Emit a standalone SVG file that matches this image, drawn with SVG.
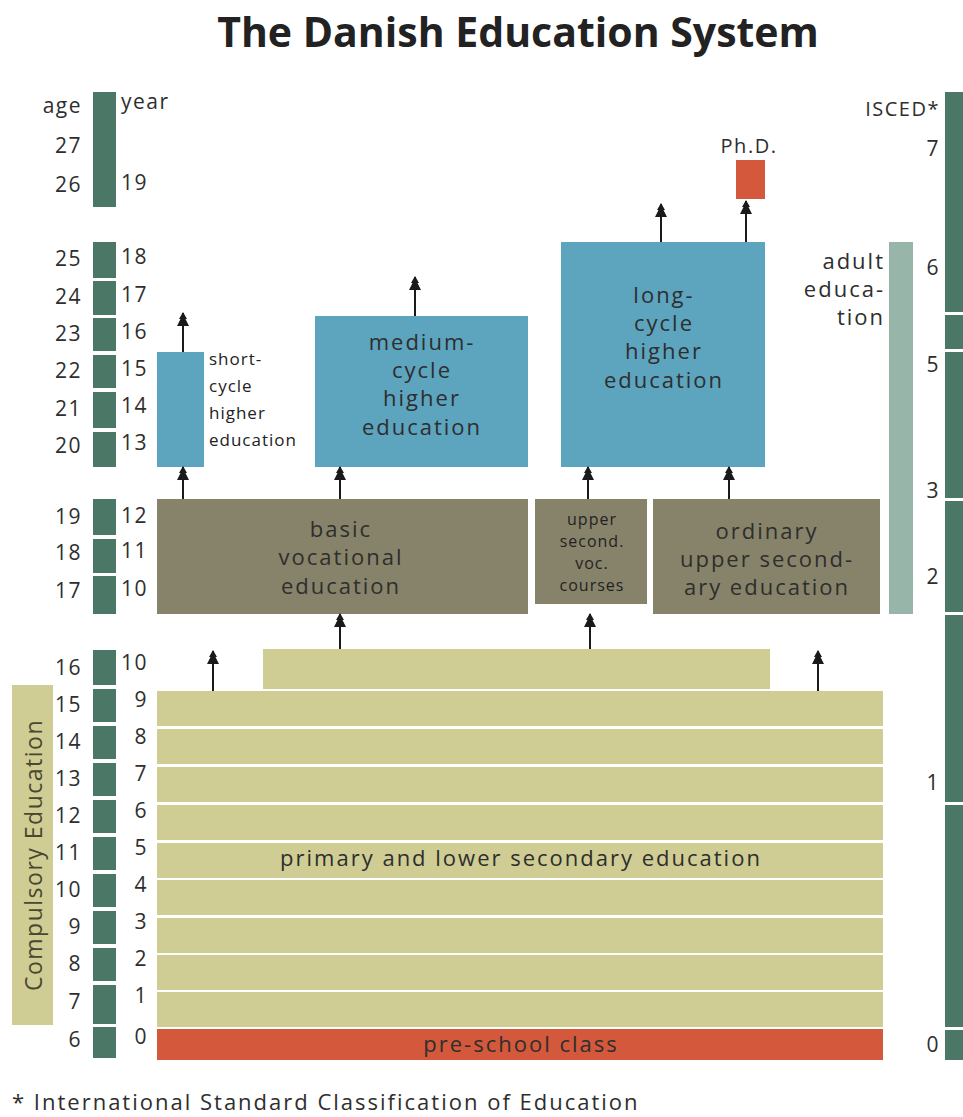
<svg xmlns="http://www.w3.org/2000/svg" width="963" height="1117" viewBox="0 0 963 1117">
<defs>
<style>
text{font-family:"Open Sans","Liberation Sans",sans-serif;fill:#2e2e2e}
.title{font-size:41px;font-weight:bold;text-anchor:middle;fill:#222}
.age{font-size:21px;text-anchor:end;letter-spacing:1.5px}
.yr{font-size:21px;text-anchor:end;letter-spacing:1.5px}
.lbl{font-size:22px;text-anchor:middle;letter-spacing:2px}
.sm{font-size:16px;text-anchor:middle;letter-spacing:1px;fill:#222}
.sc{font-size:17px;letter-spacing:1px;fill:#222}
.ad{font-size:22px;text-anchor:end;letter-spacing:2px}
.bar{fill:#4b7766}
.blue{fill:#5da4bf}
.olive{fill:#87836a}
.tan{fill:#cfcd93}
.red{fill:#d4593c}
.arr{stroke:#1a1a1a;stroke-width:2;marker-end:url(#tree)}
</style>
<marker id="tree" markerUnits="userSpaceOnUse" markerWidth="16" markerHeight="14" viewBox="0 -7 16 14" refX="14" refY="0" orient="auto">
<polygon points="15,0 8,-4 8,-2.5 1,-6 1,6 8,2.5 8,4" fill="#1a1a1a"/>
</marker>
</defs>
<rect width="963" height="1117" fill="#fff"/>
<text class="title" x="518" y="47">The Danish Education System</text>

<g id="age-year-scale">
<rect class="bar" x="93" y="92" width="23" height="115"/>
<rect class="bar" x="93" y="242" width="23" height="36"/>
<rect class="bar" x="93" y="281" width="23" height="34"/>
<rect class="bar" x="93" y="318" width="23" height="33"/>
<rect class="bar" x="93" y="355" width="23" height="33"/>
<rect class="bar" x="93" y="392" width="23" height="36"/>
<rect class="bar" x="93" y="432" width="23" height="35"/>
<rect class="bar" x="93" y="499" width="23" height="36"/>
<rect class="bar" x="93" y="539" width="23" height="34"/>
<rect class="bar" x="93" y="576" width="23" height="38"/>
<rect class="bar" x="93" y="650" width="23" height="35"/>
<rect class="bar" x="93" y="689" width="23" height="33"/>
<rect class="bar" x="93" y="726" width="23" height="33"/>
<rect class="bar" x="93" y="763" width="23" height="33"/>
<rect class="bar" x="93" y="800" width="23" height="33"/>
<rect class="bar" x="93" y="837" width="23" height="33"/>
<rect class="bar" x="93" y="874" width="23" height="33"/>
<rect class="bar" x="93" y="911" width="23" height="33"/>
<rect class="bar" x="93" y="948" width="23" height="33"/>
<rect class="bar" x="93" y="985" width="23" height="39"/>
<rect class="bar" x="93" y="1027" width="23" height="31"/>
<text class="age" x="82" y="113">age</text>
<text x="121" y="109" style="font-size:21px;letter-spacing:1.5px">year</text>
<text class="age" x="82" y="153">27</text>
<text class="age" x="82" y="192">26</text>
<text class="yr" x="148" y="190">19</text>
<text class="age" x="82" y="266">25</text>
<text class="age" x="82" y="304">24</text>
<text class="age" x="82" y="341">23</text>
<text class="age" x="82" y="378">22</text>
<text class="age" x="82" y="416">21</text>
<text class="age" x="82" y="453">20</text>
<text class="yr" x="148" y="264">18</text>
<text class="yr" x="148" y="302">17</text>
<text class="yr" x="148" y="339">16</text>
<text class="yr" x="148" y="376">15</text>
<text class="yr" x="148" y="413">14</text>
<text class="yr" x="148" y="450">13</text>
<text class="age" x="82" y="524">19</text>
<text class="age" x="82" y="560">18</text>
<text class="age" x="82" y="598">17</text>
<text class="yr" x="148" y="523">12</text>
<text class="yr" x="148" y="558">11</text>
<text class="yr" x="148" y="596">10</text>
<text class="age" x="82" y="675">16</text>
<text class="age" x="82" y="712">15</text>
<text class="age" x="82" y="749">14</text>
<text class="age" x="82" y="786">13</text>
<text class="age" x="82" y="823">12</text>
<text class="age" x="82" y="860">11</text>
<text class="age" x="82" y="897">10</text>
<text class="age" x="82" y="934">9</text>
<text class="age" x="82" y="971">8</text>
<text class="age" x="82" y="1009">7</text>
<text class="age" x="82" y="1047">6</text>
<text class="yr" x="148" y="670">10</text>
<text class="yr" x="148" y="707">9</text>
<text class="yr" x="148" y="744">8</text>
<text class="yr" x="148" y="781">7</text>
<text class="yr" x="148" y="818">6</text>
<text class="yr" x="148" y="855">5</text>
<text class="yr" x="148" y="892">4</text>
<text class="yr" x="148" y="929">3</text>
<text class="yr" x="148" y="966">2</text>
<text class="yr" x="148" y="1003">1</text>
<text class="yr" x="148" y="1044">0</text>
</g>

<g id="compulsory-education">
<rect class="tan" x="12" y="685" width="41" height="340"/>
<text x="42" y="855" transform="rotate(-90 42 855)" style="font-size:23px;letter-spacing:1.5px;text-anchor:middle;fill:#4a4630">Compulsory Education</text>
</g>

<g id="isced-scale">
<rect class="bar" x="945" y="92" width="18" height="220"/>
<rect class="bar" x="945" y="315" width="18" height="34"/>
<rect class="bar" x="945" y="352" width="18" height="146"/>
<rect class="bar" x="945" y="501" width="18" height="111"/>
<rect class="bar" x="945" y="615" width="18" height="187"/>
<rect class="bar" x="945" y="805" width="18" height="222"/>
<rect class="bar" x="945" y="1030" width="18" height="30"/>
<text class="age" x="940" y="116" style="font-size:20px">ISCED*</text>
<text class="age" x="940" y="156">7</text>
<text class="age" x="940" y="275">6</text>
<text class="age" x="940" y="372">5</text>
<text class="age" x="940" y="498">3</text>
<text class="age" x="940" y="584">2</text>
<text class="age" x="940" y="790">1</text>
<text class="age" x="940" y="1052">0</text>
</g>

<g id="adult-education">
<rect x="889" y="242" width="24" height="372" fill="#98b5aa"/>
<text class="ad"><tspan x="885" y="269">adult</tspan><tspan x="885" y="297">educa-</tspan><tspan x="885" y="325">tion</tspan></text>
</g>

<g id="phd">
<rect class="red" x="736" y="160" width="29" height="39"/>
<text x="749" y="153" style="font-size:20px;letter-spacing:1.5px;text-anchor:middle">Ph.D.</text>
</g>

<g id="short-cycle">
<rect class="blue" x="157" y="352" width="47" height="115"/>
<text class="sc"><tspan x="209" y="365">short-</tspan><tspan x="209" y="392">cycle</tspan><tspan x="209" y="419">higher</tspan><tspan x="209" y="446">education</tspan></text>
</g>

<g id="medium-cycle">
<rect class="blue" x="315" y="316" width="213" height="151"/>
<text class="lbl"><tspan x="422" y="350">medium-</tspan><tspan x="422" y="378">cycle</tspan><tspan x="422" y="406">higher</tspan><tspan x="422" y="435">education</tspan></text>
</g>

<g id="long-cycle">
<rect class="blue" x="561" y="242" width="204" height="225"/>
<text class="lbl"><tspan x="664" y="303">long-</tspan><tspan x="664" y="331">cycle</tspan><tspan x="664" y="359">higher</tspan><tspan x="664" y="388">education</tspan></text>
</g>

<g id="basic-vocational">
<rect class="olive" x="157" y="499" width="371" height="115"/>
<text class="lbl"><tspan x="341" y="537">basic</tspan><tspan x="341" y="565">vocational</tspan><tspan x="341" y="594">education</tspan></text>
</g>

<g id="upper-second-voc">
<rect class="olive" x="535" y="499" width="112" height="105"/>
<text class="sm"><tspan x="592" y="525">upper</tspan><tspan x="592" y="547">second.</tspan><tspan x="592" y="569">voc.</tspan><tspan x="592" y="591">courses</tspan></text>
</g>

<g id="ordinary-upper-secondary">
<rect class="olive" x="653" y="499" width="227" height="115"/>
<text class="lbl"><tspan x="767" y="539">ordinary</tspan><tspan x="767" y="567">upper second-</tspan><tspan x="767" y="595">ary education</tspan></text>
</g>

<g id="primary-lower-secondary">
<rect class="tan" x="263" y="649" width="507" height="40"/>
<rect class="tan" x="157" y="691" width="726" height="35"/>
<rect class="tan" x="157" y="729" width="726" height="35"/>
<rect class="tan" x="157" y="767" width="726" height="35"/>
<rect class="tan" x="157" y="805" width="726" height="35"/>
<rect class="tan" x="157" y="843" width="726" height="35"/>
<rect class="tan" x="157" y="880" width="726" height="35"/>
<rect class="tan" x="157" y="918" width="726" height="35"/>
<rect class="tan" x="157" y="955" width="726" height="35"/>
<rect class="tan" x="157" y="992" width="726" height="35"/>
<text class="lbl" x="521" y="866">primary and lower secondary education</text>
</g>

<g id="pre-school">
<rect class="red" x="157" y="1029" width="726" height="31"/>
<text class="lbl" x="521" y="1052">pre-school class</text>
</g>

<g id="connectors">
<line class="arr" x1="183" y1="352" x2="183" y2="313"/>
<line class="arr" x1="183" y1="499" x2="183" y2="467"/>
<line class="arr" x1="340" y1="499" x2="340" y2="467"/>
<line class="arr" x1="415" y1="316" x2="415" y2="277"/>
<line class="arr" x1="588" y1="499" x2="588" y2="467"/>
<line class="arr" x1="729" y1="499" x2="729" y2="467"/>
<line class="arr" x1="661" y1="242" x2="661" y2="204"/>
<line class="arr" x1="746" y1="242" x2="746" y2="201"/>
<line class="arr" x1="340" y1="649" x2="340" y2="614"/>
<line class="arr" x1="590" y1="649" x2="590" y2="614"/>
<line class="arr" x1="213" y1="691" x2="213" y2="651"/>
<line class="arr" x1="818" y1="691" x2="818" y2="651"/>
</g>

<text x="12" y="1110" style="font-size:22px;letter-spacing:2px">* International Standard Classification of Education</text>
</svg>
